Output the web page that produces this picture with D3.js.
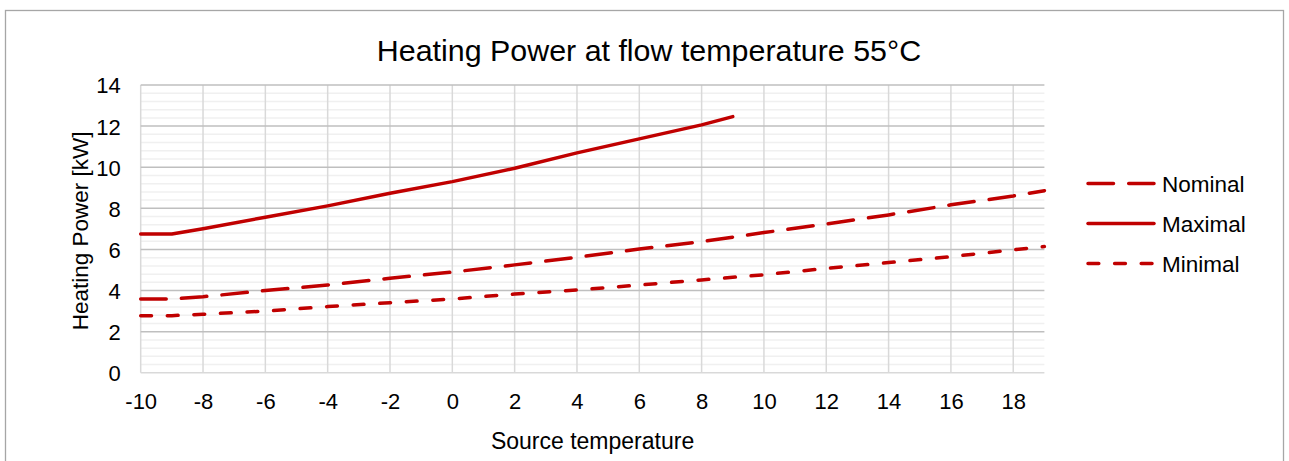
<!DOCTYPE html>
<html>
<head>
<meta charset="utf-8">
<script src="https://cdn.jsdelivr.net/npm/d3@7"></script>
<style>
  body { margin: 0; background: #fff; }
  text { font-family: "Liberation Sans", Arial, sans-serif; fill: #000; }
</style>
</head>
<body>
<div class="chart"></div>
<script>
// Data
var nominalX = [-10, -9, -8, -6, -4, -2, 0, 2, 4, 6, 8, 10, 12, 14, 16, 18, 19];
var nominalY = [3.59, 3.59, 3.7, 4.0, 4.27, 4.6, 4.9, 5.25, 5.62, 6.02, 6.38, 6.82, 7.24, 7.68, 8.17, 8.6, 8.86];

var maximalX = [-10, -9, -8, -6, -4, -2, 0, 2, 4, 6, 8, 9];
var maximalY = [6.75, 6.75, 7.01, 7.57, 8.12, 8.73, 9.3, 9.95, 10.7, 11.38, 12.06, 12.46];

var minimalX = [-10, -9, -8, -6, -4, -2, 0, 2, 4, 6, 8, 10, 12, 14, 16, 18, 19];
var minimalY = [2.78, 2.78, 2.85, 3.0, 3.22, 3.41, 3.59, 3.83, 4.03, 4.27, 4.52, 4.77, 5.08, 5.36, 5.65, 5.98, 6.14];

var xTicks = [-10, -8, -6, -4, -2, 0, 2, 4, 6, 8, 10, 12, 14, 16, 18];
var yTicks = [0, 2, 4, 6, 8, 10, 12, 14];
var seriesNames = ["Nominal", "Maximal", "Minimal"];

var svgWidth = 1289;
var svgHeight = 461;

var margin = { top: 85, left: 140.7 };
var width = 903.7;
var height = 287.8;

var red = "#c00000";

var svg = d3.select(".chart")
  .append("svg")
  .attr("width", svgWidth)
  .attr("height", svgHeight);

// chart frame
svg.append("rect")
  .attr("x", 5.5)
  .attr("y", 10.5)
  .attr("width", 1278)
  .attr("height", 470)
  .attr("fill", "none")
  .attr("stroke", "#a6a6a6")
  .attr("stroke-width", 1.3);

svg.append("text")
  .attr("x", 649)
  .attr("y", 61)
  .attr("text-anchor", "middle")
  .attr("font-size", "30.4px")
  .text("Heating Power at flow temperature 55°C");

var chartGroup = svg.append("g")
  .attr("transform", `translate(${margin.left}, ${margin.top})`);

var xScale = d3.scaleLinear().domain([-10, 19]).range([0, width]);
var yScale = d3.scaleLinear().domain([0, 14]).range([height, 0]);

// minor horizontal gridlines every 0.4
var minor = d3.range(0, 35).map(i => i * 0.4).filter(v => Math.abs(v / 2 - Math.round(v / 2)) > 0.01);
chartGroup.selectAll(".minor")
  .data(minor)
  .enter()
  .append("line")
  .attr("x1", 0)
  .attr("x2", width)
  .attr("y1", d => yScale(d))
  .attr("y2", d => yScale(d))
  .attr("stroke", "#f0f0f0")
  .attr("stroke-width", 1.5);

// vertical gridlines
chartGroup.selectAll(".vgrid")
  .data(xTicks)
  .enter()
  .append("line")
  .attr("x1", d => xScale(d))
  .attr("x2", d => xScale(d))
  .attr("y1", 0)
  .attr("y2", height)
  .attr("stroke", "#d9d9d9")
  .attr("stroke-width", 1.5);

// major horizontal gridlines
chartGroup.selectAll(".hgrid")
  .data(yTicks.filter(d => d > 0))
  .enter()
  .append("line")
  .attr("x1", 0)
  .attr("x2", width)
  .attr("y1", d => yScale(d))
  .attr("y2", d => yScale(d))
  .attr("stroke", "#bfbfbf")
  .attr("stroke-width", 1.5);

// x axis line
chartGroup.append("line")
  .attr("x1", 0)
  .attr("x2", width)
  .attr("y1", height)
  .attr("y2", height)
  .attr("stroke", "#d9d9d9")
  .attr("stroke-width", 1.5);

// Axes (labels only), plain hyphen for negatives
var fmt = d => String(d);
var bottomAxis = d3.axisBottom(xScale).tickValues(xTicks).tickFormat(fmt).tickSize(0).tickPadding(0);
var leftAxis = d3.axisLeft(yScale).tickValues(yTicks).tickFormat(fmt).tickSize(0).tickPadding(0);

var xAxisG = chartGroup.append("g")
  .attr("transform", `translate(0, ${height})`)
  .call(bottomAxis);
xAxisG.select(".domain").remove();
xAxisG.selectAll("text")
  .attr("font-size", "22px")
  .attr("font-family", "Liberation Sans, Arial, sans-serif")
  .attr("fill", "#000")
  .attr("dy", null)
  .attr("y", 36);

var yAxisG = chartGroup.append("g")
  .call(leftAxis);
yAxisG.select(".domain").remove();
yAxisG.selectAll("text")
  .attr("font-size", "22px")
  .attr("font-family", "Liberation Sans, Arial, sans-serif")
  .attr("fill", "#000")
  .attr("x", -20)
  .attr("dy", "0.36em");

// lines
var line = d3.line()
  .x(d => xScale(d[0]))
  .y(d => yScale(d[1]));

var series = [
  { name: "Nominal", pts: d3.zip(nominalX, nominalY), dash: "25.5,15.2" },
  { name: "Maximal", pts: d3.zip(maximalX, maximalY), dash: null },
  { name: "Minimal", pts: d3.zip(minimalX, minimalY), dash: "10.8,15.8" }
];

chartGroup.selectAll(".series")
  .data(series)
  .enter()
  .append("path")
  .attr("d", d => line(d.pts))
  .attr("fill", "none")
  .attr("stroke", red)
  .attr("stroke-width", 3.5)
  .attr("stroke-linecap", "round")
  .attr("stroke-linejoin", "round")
  .attr("stroke-dasharray", d => d.dash);

// axis titles
svg.append("text")
  .attr("transform", `translate(88, ${margin.top + height / 2 + 2}) rotate(-90)`)
  .attr("text-anchor", "middle")
  .attr("font-size", "22.5px")
  .text("Heating Power [kW]");

svg.append("text")
  .attr("x", margin.left + width / 2)
  .attr("y", 449)
  .attr("text-anchor", "middle")
  .attr("font-size", "23px")
  .text("Source temperature");

// legend
var legend = svg.selectAll(".legend")
  .data(series)
  .enter()
  .append("g")
  .attr("transform", (d, i) => `translate(1088, ${183.5 + i * 40})`);

legend.append("line")
  .attr("x1", 0)
  .attr("x2", 66)
  .attr("stroke", red)
  .attr("stroke-width", 3.5)
  .attr("stroke-linecap", "round")
  .attr("stroke-dasharray", d => d.dash);

legend.append("text")
  .attr("x", 74)
  .attr("dy", "0.36em")
  .attr("font-size", "22.5px")
  .text((d, i) => seriesNames[i]);
</script>
</body>
</html>
